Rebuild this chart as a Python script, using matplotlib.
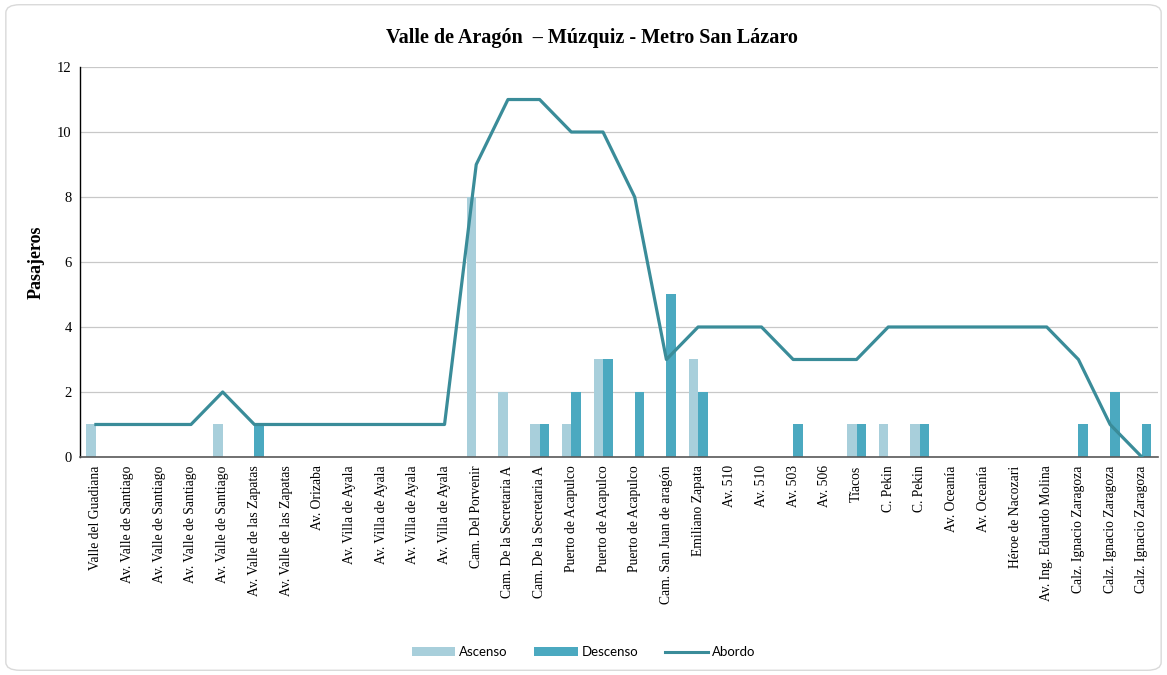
import matplotlib
matplotlib.use("Agg")
import matplotlib.pyplot as plt
import numpy as np
from matplotlib.patches import FancyBboxPatch
from matplotlib.lines import Line2D
from matplotlib.patches import Patch

categories = [
    "Valle del Guadiana", "Av. Valle de Santiago", "Av. Valle de Santiago",
    "Av. Valle de Santiago", "Av. Valle de Santiago", "Av. Valle de las Zapatas",
    "Av. Valle de las Zapatas", "Av. Orizaba", "Av. Villa de Ayala",
    "Av. Villa de Ayala", "Av. Villa de Ayala", "Av. Villa de Ayala",
    "Cam. Del Porvenir", "Cam. De la Secretaria A", "Cam. De la Secretaria A",
    "Puerto de Acapulco", "Puerto de Acapulco", "Puerto de Acapulco",
    "Cam. San Juan de aragón", "Emiliano Zapata", "Av. 510", "Av. 510",
    "Av. 503", "Av. 506", "Tĩacos", "C. Pekin", "C. Pekin", "Av. Oceanía",
    "Av. Oceanía", "Héroe de Nacozari", "Av. Ing. Eduardo Molina",
    "Calz. Ignacio Zaragoza", "Calz. Ignacio Zaragoza", "Calz. Ignacio Zaragoza",
]
ascenso = [1, 0, 0, 0, 1, 0, 0, 0, 0, 0, 0, 0, 8, 2, 1, 1, 3, 0, 0, 3, 0, 0,
           0, 0, 1, 1, 1, 0, 0, 0, 0, 0, 0, 0]
descenso = [0, 0, 0, 0, 0, 1, 0, 0, 0, 0, 0, 0, 0, 0, 1, 2, 3, 2, 5, 2, 0, 0,
            1, 0, 1, 0, 1, 0, 0, 0, 0, 1, 2, 1]
abordo = [1, 1, 1, 1, 2, 1, 1, 1, 1, 1, 1, 1, 9, 11, 11, 10, 10, 8, 3, 4, 4, 4,
          3, 3, 3, 4, 4, 4, 4, 4, 4, 3, 1, 0]
yticks = [0, 2, 4, 6, 8, 10, 12]

c_asc = "#A8CFDB"
c_desc = "#4BA9C0"
c_line = "#3A8C99"
serif = "Liberation Serif"

fig = plt.figure(figsize=(11.67, 6.75), dpi=100)
fig.patches.append(FancyBboxPatch((0.005, 0.007), 0.99, 0.986,
                                  boxstyle="round,pad=0,rounding_size=0.012",
                                  transform=fig.transFigure, fill=False,
                                  edgecolor="#D9D9D9", linewidth=1.0))
ax = fig.add_axes([0.0686, 0.323, 0.9234, 0.5777])

x = np.arange(len(categories))
w = 0.3
ax.bar(x - w / 2, ascenso, width=w, color=c_asc, zorder=2)
ax.bar(x + w / 2, descenso, width=w, color=c_desc, zorder=2)
ax.plot(x, abordo, color=c_line, linewidth=2.3, zorder=3)

ax.set_xlim(-0.5, len(categories) - 0.5)
ax.set_ylim(0, 12)
ax.set_yticks(yticks)
ax.set_yticklabels([str(v) for v in yticks], fontfamily=serif, fontsize=10.5)
ax.set_xticks(x)
ax.set_xticklabels(categories, rotation=90, fontfamily=serif, fontsize=9.8)
ax.tick_params(axis="both", length=0, pad=6)
ax.grid(axis="y", color="#C8C8C8", linewidth=0.9, zorder=0)
ax.set_axisbelow(True)
for s in ["top", "right"]:
    ax.spines[s].set_visible(False)
ax.spines["left"].set_color("#000000")
ax.spines["left"].set_linewidth(1.0)
ax.spines["bottom"].set_color("#595959")
ax.spines["bottom"].set_linewidth(1.2)

ax.set_ylabel("Pasajeros", fontfamily=serif, fontweight="bold", fontsize=13, labelpad=9)
fig.text(0.507, 0.944, "Valle de Aragón  – Múzquiz - Metro San Lázaro",
         ha="center", va="center", fontfamily=serif, fontweight="bold", fontsize=14.5)

handles = [Patch(facecolor=c_asc), Patch(facecolor=c_desc),
           Line2D([0], [0], color=c_line, linewidth=2.2)]
fig.legend(handles, ["Ascenso", "Descenso", "Abordo"], loc="center",
           bbox_to_anchor=(0.5, 0.034), ncol=3, frameon=False,
           prop={"family": "Lato", "size": 9.5}, handlelength=3.3,
           handleheight=0.6, columnspacing=2.0, handletextpad=0.3)

fig.savefig("out.png", dpi=100, facecolor="white")
